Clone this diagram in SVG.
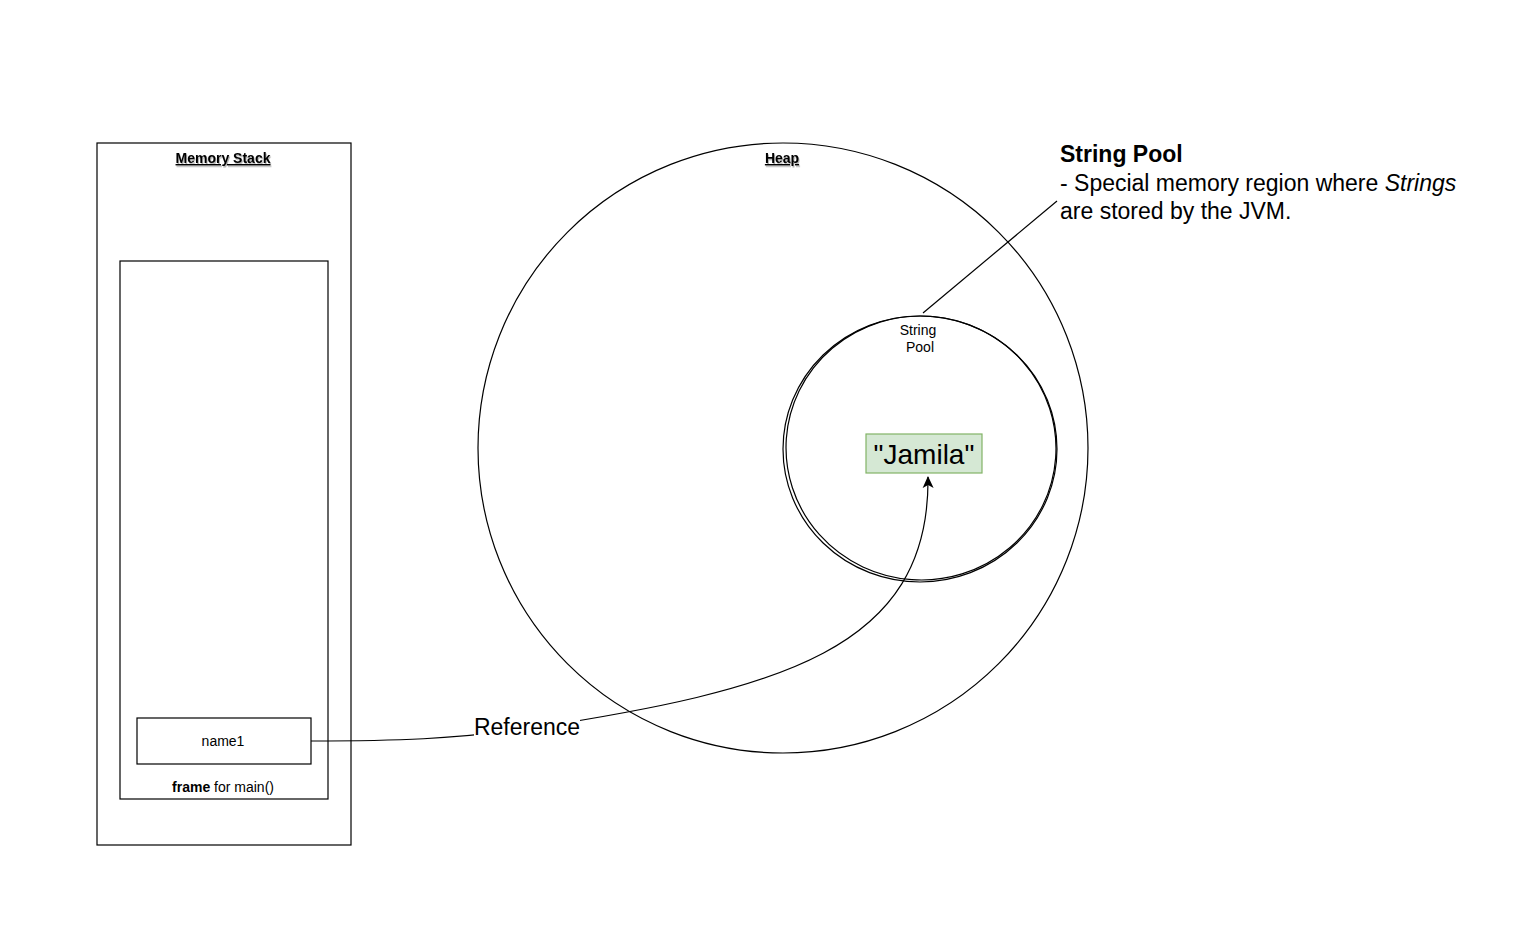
<svg xmlns="http://www.w3.org/2000/svg" width="1539" height="943" viewBox="0 0 1539 943">
<style>
.s{fill:none;stroke:#000;stroke-width:1.2}
.t{font-family:"Liberation Sans",Arial,sans-serif;fill:#000}
.h{font-weight:bold;font-size:14px;text-decoration:underline;filter:url(#sh)}
</style>
<defs>
<filter id="sh" x="-20%" y="-50%" width="140%" height="200%"><feDropShadow dx="1" dy="1.5" stdDeviation="0.6" flood-color="#000" flood-opacity="0.3"/></filter>
<marker id="ar" viewBox="0 0 12 12" refX="11" refY="6" markerWidth="12" markerHeight="12" markerUnits="userSpaceOnUse" orient="auto"><path d="M0,0.5 L12,6 L0,11.5 L3,6 Z" fill="#000"/></marker>
</defs>
<rect width="1539" height="943" fill="#fff"/>
<g id="stack">
<rect class="s" x="97" y="143" width="254" height="702"/>
<text class="t h" x="223" y="163" text-anchor="middle">Memory Stack</text>
</g>
<g id="frame">
<rect class="s" x="120" y="261" width="208" height="538"/>
<text class="t" x="223" y="792" text-anchor="middle" font-size="14"><tspan font-weight="bold">frame</tspan> for main()</text>
</g>
<g id="name1">
<rect class="s" x="137" y="718" width="174" height="46"/>
<text class="t" x="223" y="746" text-anchor="middle" font-size="14">name1</text>
</g>
<g id="heap">
<circle class="s" cx="783" cy="448" r="305"/>
<text class="t h" x="782" y="163" text-anchor="middle">Heap</text>
</g>
<g id="pool">
<ellipse class="s" cx="920" cy="449" rx="137" ry="133"/>
<ellipse class="s" cx="921" cy="448" rx="135" ry="132" transform="rotate(4 921 448)"/>
<text class="t" x="918" y="335" text-anchor="middle" font-size="14">String</text>
<text class="t" x="920" y="352" text-anchor="middle" font-size="14">Pool</text>
</g>
<g id="jamila">
<rect x="866" y="434" width="116" height="39" fill="#d5e8d4" stroke="#82b366" stroke-width="1.2"/>
<text class="t" x="924" y="464" text-anchor="middle" font-size="28">"Jamila"</text>
</g>
<g id="note">
<text class="t" x="1060" y="162" font-size="23" font-weight="bold">String Pool</text>
<text class="t" x="1060" y="191" font-size="23">- Special memory region where <tspan font-style="italic">Strings</tspan></text>
<text class="t" x="1060" y="219" font-size="23">are stored by the JVM.</text>
</g>
<g id="connectors">
<path class="s" d="M923,313 L1057,201"/>
<path class="s" d="M311,741 C400,741 450,739 527,729 C780,690 930,650 928,477" marker-end="url(#ar)"/>
<rect x="474" y="713" width="106" height="26" fill="#fff"/>
<text class="t" x="527" y="735" text-anchor="middle" font-size="23">Reference</text>
</g>
</svg>
